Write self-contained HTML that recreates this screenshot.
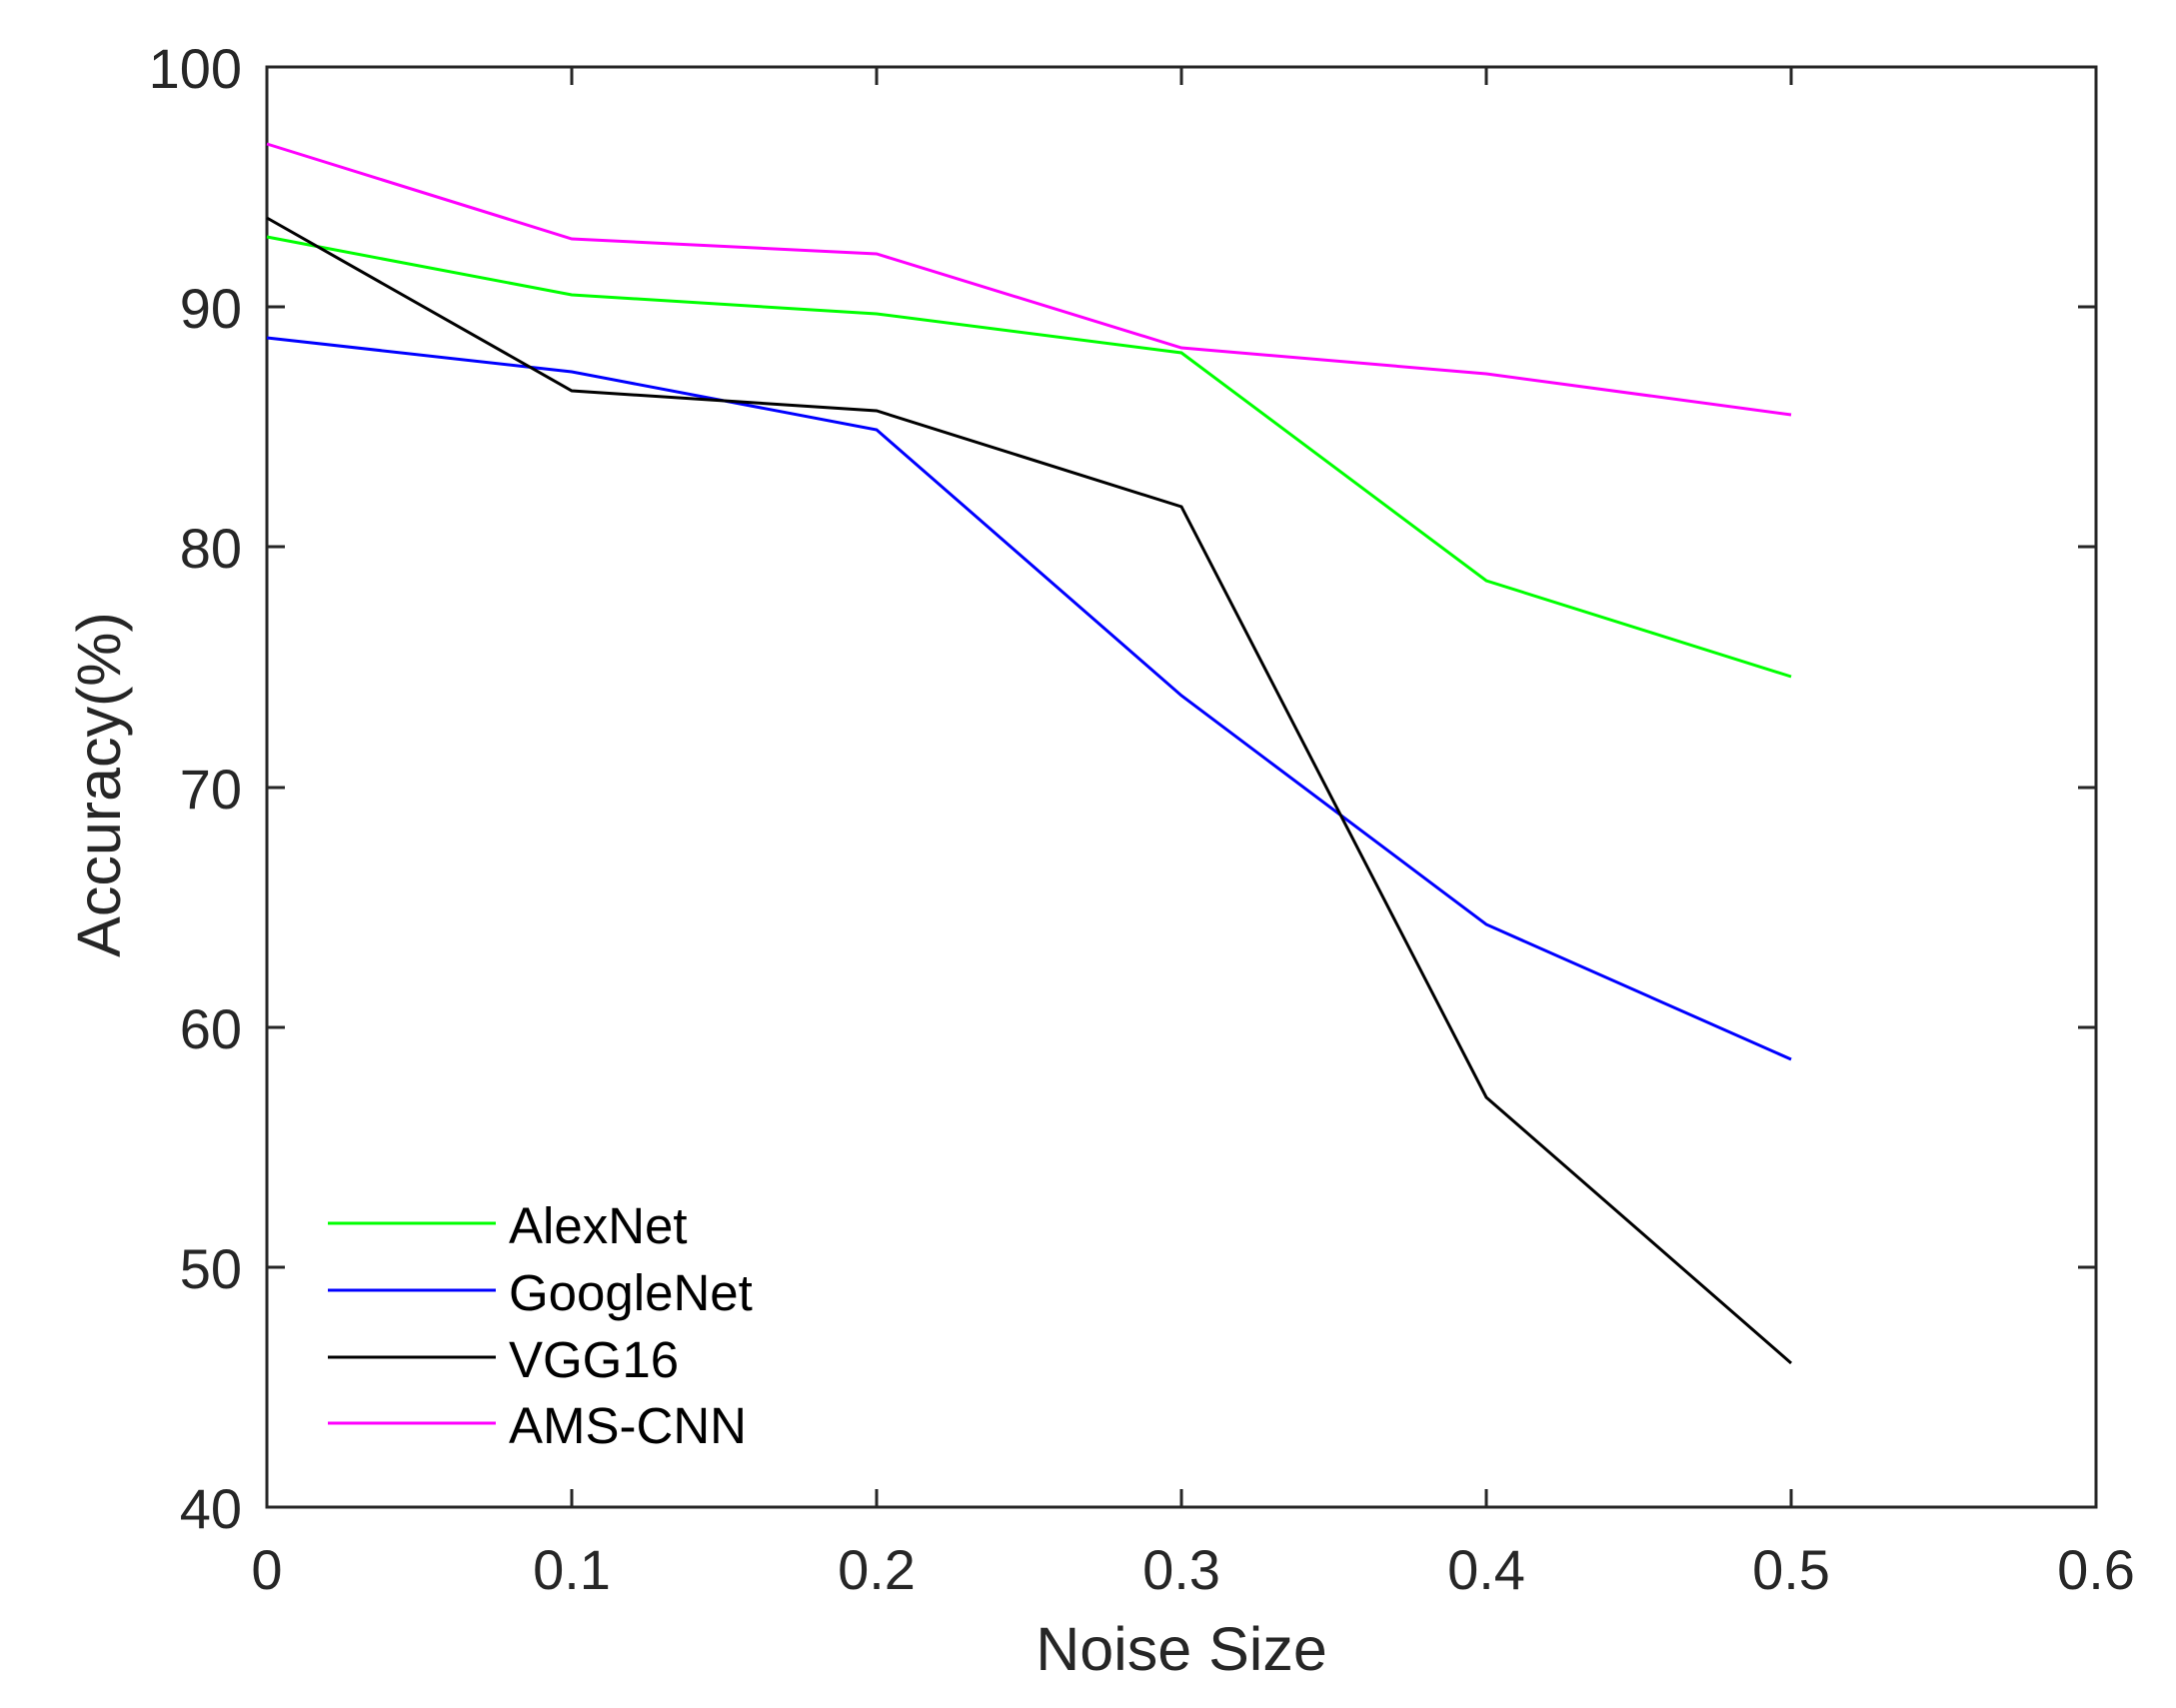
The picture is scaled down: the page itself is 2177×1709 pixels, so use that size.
<!DOCTYPE html>
<html><head><meta charset="utf-8"><style>
html,body{margin:0;padding:0;background:#fff;}
svg{display:block;}
text{font-family:"Liberation Sans",Arial,sans-serif;fill:#262626;}
</style></head><body>
<svg width="2177" height="1709" viewBox="0 0 2177 1709" xmlns="http://www.w3.org/2000/svg">
<rect width="2177" height="1709" fill="#fff"/>
<g stroke="#262626" stroke-width="3" fill="none">
<rect x="267" y="67" width="1830" height="1441"/>
<path d="M572,1508v-18M877,1508v-18M1182,1508v-18M1487,1508v-18M1792,1508v-18M572,67v18M877,67v18M1182,67v18M1487,67v18M1792,67v18"/>
<path d="M267,307h18M267,547h18M267,788h18M267,1028h18M267,1268h18M2097,307h-18M2097,547h-18M2097,788h-18M2097,1028h-18M2097,1268h-18"/>
</g>
<g font-size="56" text-anchor="end">
<text x="242" y="88">100</text>
<text x="242" y="328">90</text>
<text x="242" y="568">80</text>
<text x="242" y="809">70</text>
<text x="242" y="1049">60</text>
<text x="242" y="1289">50</text>
<text x="242" y="1529">40</text>
</g>
<g font-size="56" text-anchor="middle">
<text x="267" y="1590">0</text>
<text x="572" y="1590">0.1</text>
<text x="877" y="1590">0.2</text>
<text x="1182" y="1590">0.3</text>
<text x="1487" y="1590">0.4</text>
<text x="1792" y="1590">0.5</text>
<text x="2097" y="1590">0.6</text>
</g>
<text x="1182" y="1671" font-size="61" text-anchor="middle">Noise Size</text>
<text transform="translate(120,785) rotate(-90)" font-size="61" text-anchor="middle">Accuracy(%)</text>
<g fill="none" stroke-width="3">
<polyline stroke="#ff00ff" points="267,144 572,239 877,254 1182,348 1487,374 1792,415"/>
<polyline stroke="#00ff00" points="267,237 572,295 877,314 1182,353 1487,581 1792,677"/>
<polyline stroke="#0000ff" points="267,338 572,372 877,430 1182,696 1487,925 1792,1060"/>
<polyline stroke="#000000" points="267,218 572,391 877,411 1182,507 1487,1098 1792,1364"/>
<line x1="328" y1="1224" x2="496" y2="1224" stroke="#00ff00"/>
<line x1="328" y1="1291" x2="496" y2="1291" stroke="#0000ff"/>
<line x1="328" y1="1358" x2="496" y2="1358" stroke="#000000"/>
<line x1="328" y1="1424" x2="496" y2="1424" stroke="#ff00ff"/>
</g>
<g font-size="51">
<text x="509" y="1244" style="fill:#000">AlexNet</text>
<text x="509" y="1311" style="fill:#000">GoogleNet</text>
<text x="509" y="1378" style="fill:#000">VGG16</text>
<text x="509" y="1444" style="fill:#000">AMS-CNN</text>
</g>
</svg>
</body></html>
